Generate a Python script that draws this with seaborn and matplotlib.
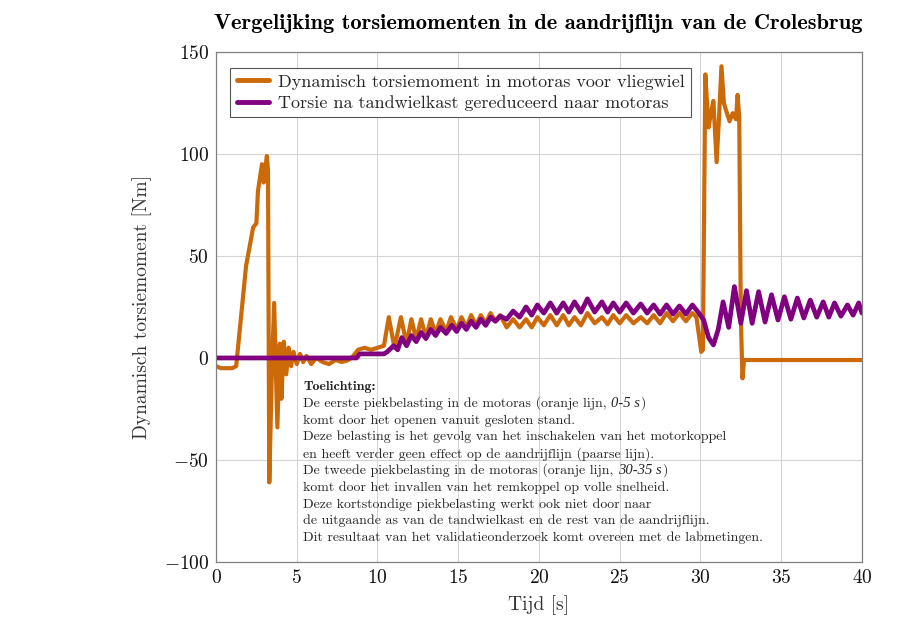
import matplotlib
matplotlib.use("Agg")
import matplotlib.pyplot as plt
import seaborn as sns

# Orange line: torque in motor shaft before flywheel
t_motor = [0, 0.3, 0.6, 1.0, 1.25, 1.5, 1.86, 2.3, 2.5, 2.6, 2.85, 2.95, 3.15, 3.22, 3.3,
           3.45, 3.6, 3.8, 3.95, 4.05, 4.2, 4.35, 4.5, 4.65, 4.8, 5.0, 5.2, 5.4, 5.6, 5.9,
           6.2, 6.6, 7.0, 7.4, 7.8, 8.2, 8.5, 8.8, 9.2, 9.6, 10.0, 10.4,
           10.7, 11.05, 11.45, 11.8, 12.1, 12.4, 12.7, 13.0, 13.3, 13.6, 13.9, 14.25, 14.55,
           14.9, 15.2, 15.5, 15.8, 16.1, 16.4, 16.7, 17.0, 17.3, 17.6, 18.0, 18.4, 18.8,
           19.2, 19.55, 19.9, 20.3, 20.7, 21.1, 21.5, 21.85, 22.2, 22.6, 23.0, 23.45, 23.9,
           24.25, 24.6, 25.0, 25.4, 25.85, 26.3, 26.7, 27.1, 27.5, 27.9, 28.3, 28.7, 29.1,
           29.5, 29.75, 30.05, 30.15, 30.3, 30.5, 30.65, 30.8, 31.0, 31.15, 31.3, 31.45,
           31.6, 31.8, 32.0, 32.2, 32.3, 32.4, 32.5, 32.6, 32.7, 35.0, 40.0]
m_motor = [-4, -5, -5, -5, -4, 16, 45, 64, 66, 82, 95, 86, 99, 92, -61,
           -10, 27, -34, 7, -20, 8, -8, 5, -4, 3, -3, 2, -2, 1, -3,
           0, -2, -3, -1, -2, -1, 1, 4, 5, 4, 5, 6,
           20, 5, 20, 7, 19, 9, 19, 10, 19, 12, 19, 13, 20,
           14, 20, 15, 21, 16, 21, 17, 22, 18, 21, 15, 19, 15,
           19, 15, 20, 16, 21, 16, 21, 16, 20, 16, 22, 17, 20,
           16.5, 21, 17, 21, 17, 20, 17, 21, 17, 22, 18, 22, 18,
           22, 20, 3, 4, 139, 113, 120, 126, 96, 118, 143, 125,
           121, 116, 120, 117, 129, 118, 20, -10, -1, -1, -1]

# Purple line: torque after gearbox reduced to motor shaft
t_gear = [0, 8.7, 8.9, 10.4, 10.6, 11.0, 11.25, 11.5, 11.8, 12.1, 12.4, 12.7, 13.0, 13.3,
          13.6, 13.9, 14.25, 14.6, 14.9, 15.2, 15.5, 15.8, 16.1, 16.4, 16.7, 17.0, 17.3,
          17.6, 18.0, 18.4, 18.8, 19.2, 19.55, 19.9, 20.3, 20.7, 21.1, 21.5, 21.85, 22.2,
          22.6, 23.0, 23.45, 23.9, 24.25, 24.6, 25.0, 25.4, 25.85, 26.3, 26.7, 27.1, 27.5,
          27.9, 28.3, 28.7, 29.1, 29.5, 29.9, 30.2, 30.5, 30.8, 31.1, 31.4, 31.75, 32.1,
          32.5, 32.85, 33.2, 33.6, 34.0, 34.4, 34.8, 35.2, 35.6, 36.0, 36.4, 36.8, 37.2,
          37.6, 37.95, 38.3, 38.7, 39.1, 39.45, 39.8, 40.0]
m_gear = [0, 0, 2, 2, 3, 6, 4, 10, 6, 11, 8, 12.5, 9.5, 14,
          11, 15, 12, 16, 13, 17, 14, 18, 15, 19, 16, 20, 18,
          20.5, 19, 23, 20, 25, 21, 26, 22, 27, 22, 27, 22.5, 27.5,
          22.5, 29, 22.5, 27.5, 22.5, 27, 22.5, 27, 22, 26.5, 22, 26, 21.5,
          26, 21.5, 25.5, 21.5, 26, 22, 18.6, 10, 6.4, 14, 27.5, 15, 35,
          17, 33, 17, 32.5, 17.6, 31, 18.6, 30, 19, 29.4, 19.6, 28.4, 20,
          27.5, 20, 27, 20.5, 26, 21, 27, 22]

label_motor = "Dynamisch torsiemoment in motoras voor vliegwiel"
label_gear = "Torsie na tandwielkast gereduceerd naar motoras"
title = "Vergelijking torsiemomenten in de aandrijflijn van de Crolesbrug"
note_head = "Toelichting:"
# each line: (upright text, italic part, upright tail)
note_lines = [
    ("De eerste piekbelasting in de motoras (oranje lijn, ", "0-5 s", ")"),
    ("komt door het openen vanuit gesloten stand.", "", ""),
    ("Deze belasting is het gevolg van het inschakelen van het motorkoppel", "", ""),
    ("en heeft verder geen effect op de aandrijflijn (paarse lijn).", "", ""),
    ("De tweede piekbelasting in de motoras (oranje lijn, ", "30-35 s", ")"),
    ("komt door het invallen van het remkoppel op volle snelheid.", "", ""),
    ("Deze kortstondige piekbelasting werkt ook niet door naar", "", ""),
    ("de uitgaande as van de tandwielkast en de rest van de aandrijflijn.", "", ""),
    ("Dit resultaat van het validatieonderzoek komt overeen met de labmetingen.", "", ""),
]

sns.set_style("whitegrid")
plt.rcParams["font.family"] = ["cmr10", "DejaVu Serif"]
plt.rcParams["axes.formatter.use_mathtext"] = True
plt.rcParams["mathtext.fontset"] = "cm"

orange = "#CC6A0A"
purple = "#800080"

fig = plt.figure(figsize=(9.16, 6.24), dpi=100)
ax = fig.add_axes([0.2358, 0.0994, 0.7052, 0.8173])

sns.lineplot(x=t_motor, y=m_motor, sort=False, estimator=None, color=orange,
             linewidth=3.0, label=label_motor, ax=ax)
sns.lineplot(x=t_gear, y=m_gear, sort=False, estimator=None, color=purple,
             linewidth=3.4, label=label_gear, ax=ax)
for line in ax.get_lines():
    line.set_solid_joinstyle("round")

ax.set_xlim(0, 40)
ax.set_ylim(-100, 150)
ax.set_xticks(range(0, 41, 5))
ax.set_yticks(range(-100, 151, 50))
ax.grid(True, color="#d4d4d4", linewidth=0.8)
ax.tick_params(length=0, labelsize=14, pad=5, labelcolor="#111111")
for sp in ax.spines.values():
    sp.set_color("#808080")
    sp.set_linewidth(0.9)

ax.set_xlabel("Tijd [s]", fontsize=14, color="#333333", labelpad=6)
ax.set_ylabel("Dynamisch torsiemoment [Nm]", fontsize=14, color="#333333", labelpad=8)
fig.text(0.5873, 0.962, title, fontsize=16.2, family="cmb10", ha="center", va="center",
         color="black")

leg = ax.legend(loc="upper left", bbox_to_anchor=(0.022, 0.969), borderaxespad=0,
                fontsize=13, frameon=True, fancybox=False, framealpha=1,
                edgecolor="#555555", handlelength=1.8, handletextpad=0.5,
                borderpad=0.35, labelspacing=0.3)
leg.get_frame().set_linewidth(0.8)
for h in leg.get_lines():
    h.set_linewidth(3.5)

# explanation block, one line at a time on a common baseline
note_x = 5.4
note_y = -15.7
line_step = 8.235
note_size = 10
ax.text(note_x, note_y, note_head, family="cmb10", fontsize=note_size,
        ha="left", va="baseline")
for i, (head, ital, tail) in enumerate(note_lines):
    y = note_y - (i + 1) * line_step
    t = ax.text(note_x, y, head, fontsize=note_size, ha="left", va="baseline")
    if ital:
        t2 = ax.annotate(ital, xy=(1, y), xycoords=(t, "data"),
                         family="Liberation Serif", style="italic",
                         fontsize=note_size + 0.5, ha="left", va="baseline")
        ax.annotate(tail, xy=(1, y), xycoords=(t2, "data"), fontsize=note_size,
                    ha="left", va="baseline")

fig.savefig("out.png", dpi=100)
